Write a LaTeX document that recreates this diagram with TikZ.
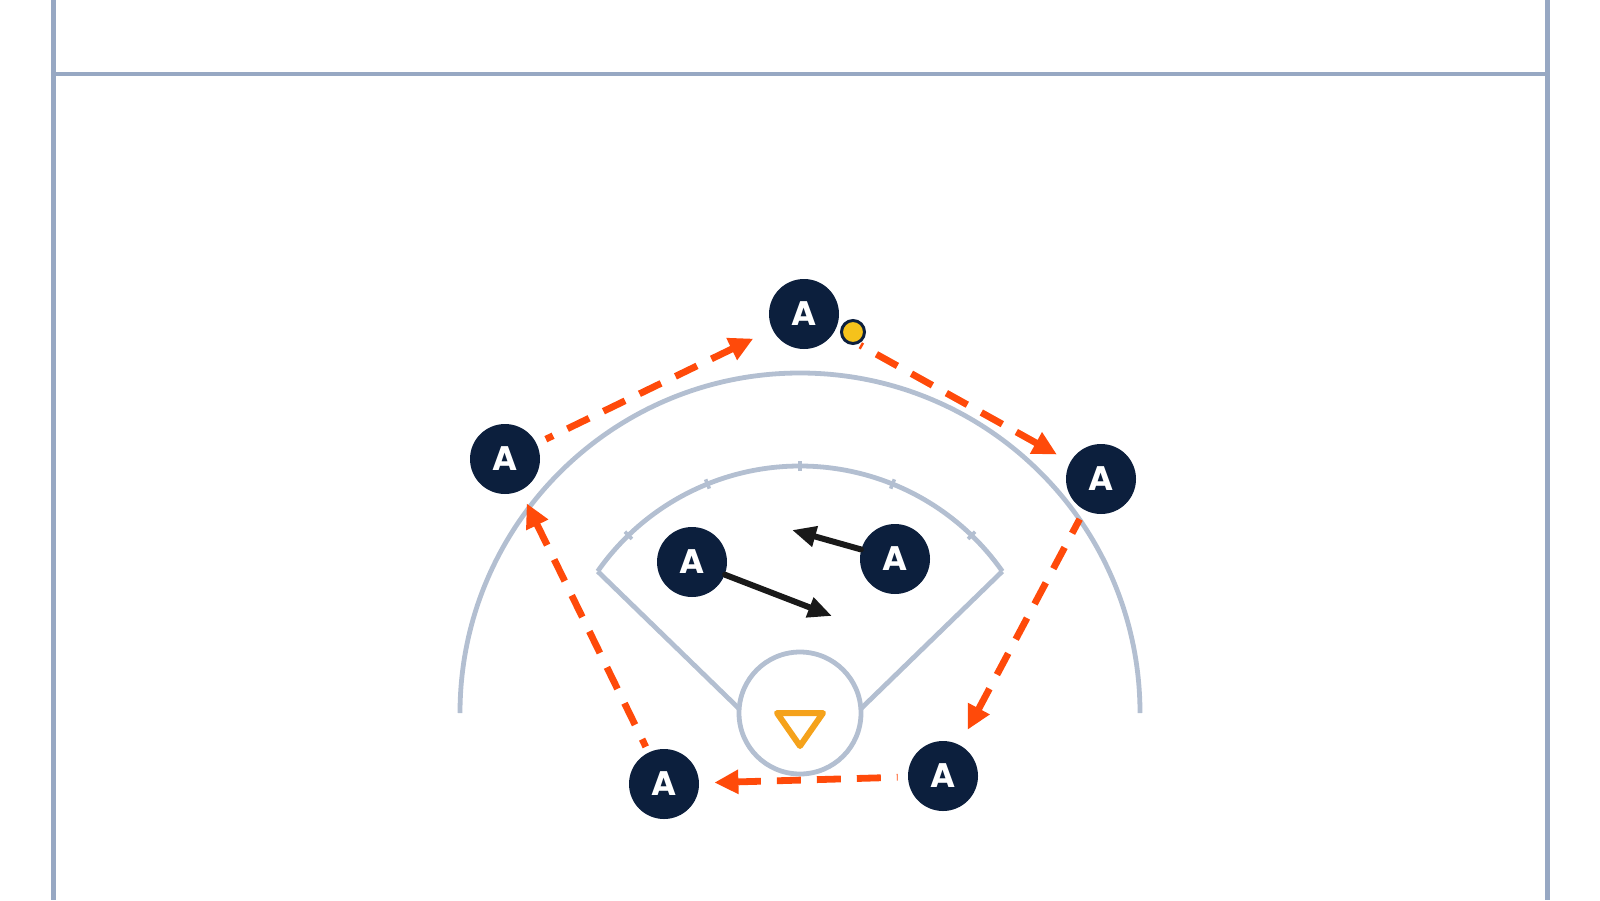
\documentclass[tikz,border=0pt]{standalone}
\usepackage{fontspec}
\setmainfont{Poppins}
\usetikzlibrary{arrows.meta,calc}
\definecolor{navy}{HTML}{0C1F3D}
\definecolor{court}{HTML}{97A8C3}
\definecolor{crease}{HTML}{B3BFD1}
\definecolor{runorange}{HTML}{FF4A0A}
\definecolor{ballyellow}{HTML}{F5C21B}
\definecolor{goalorange}{HTML}{F5A21B}
\begin{document}
\begin{tikzpicture}[x=0.5pt,y=-0.5pt,
  player/.style={circle,fill=navy,minimum size=35pt,inner sep=0pt,text=white,
    font=\fontsize{17}{17}\selectfont\bfseries},
  ball/.style={circle,fill=ballyellow,draw=navy,line width=1.5pt,minimum size=11.5pt,inner sep=0pt},
  courtline/.style={draw=court,line width=2.5pt},
  creaseline/.style={draw=crease,line width=2.4pt},
  run/.style={draw=runorange,line width=3.4pt,dash pattern=on 12pt off 8pt,
    {Triangle[length=12pt,width=11.5pt]}-},
  pass/.style={draw=black!90,line width=3pt,line cap=round,
    -{Triangle[length=12pt,width=10pt]}}]
\useasboundingbox (0,0) rectangle (1600,900);
% field lines
\draw[courtline] (53,0) -- (53,900);
\draw[courtline] (1547,0) -- (1547,900);
\draw[courtline,line width=2pt] (53,74) -- (1547,74);
% goal area
\coordinate (g) at (800,713);
\draw[creaseline] (460,713) arc[start angle=180,end angle=0,radius=170pt];
\draw[creaseline] ($(g)+(145:123.5pt)$) arc[start angle=145,end angle=35,radius=123.5pt];
\draw[creaseline] ($(g)+(145:123.5pt)$) -- ($(g)+(176:30.5pt)$);
\draw[creaseline] ($(g)+(35:123.5pt)$) -- ($(g)+(4:30.5pt)$);
\foreach \a in {46,68,90,112,134}
  \draw[creaseline,line width=1.8pt] ($(g)+(\a:121pt)$) -- ($(g)+(\a:126pt)$);
\draw[creaseline] (g) circle[radius=30.5pt];
\draw[goalorange,line width=3pt,line join=round] (777,713) -- (823,713) -- (800,746) -- cycle;
% players
\node[player] (p1) at (804,314) {A};
\node[player] (p2) at (505,459) {A};
\node[player] (p3) at (1101,479) {A};
\node[player] (p4) at (692,562) {A};
\node[player] (p5) at (895,559) {A};
\node[player] (p6) at (664,784) {A};
\node[player] (p7) at (943,776) {A};
\node[ball] (b) at (853,332) {};
% runs (drawn from target back to source so a dash meets the head)
\draw[run,shorten >=5pt,shorten <=10.5pt] (p1) -- (p2);
\draw[run,shorten >=14.5pt,shorten <=7.5pt] (p3) -- (p1);
\draw[run,shorten >=5pt,shorten <=8.5pt] (p7) -- (p3);
\draw[run,shorten >=5pt,shorten <=7.5pt] (p6) -- (p7);
\draw[run,shorten >=3pt,shorten <=7pt] (p2) -- (p6);
% passes
\coordinate (e4) at (832,616);
\coordinate (e5) at (792,530);
\draw[pass] (p4) -- (e4);
\draw[pass] (p5) -- (e5);
\end{tikzpicture}
\end{document}
